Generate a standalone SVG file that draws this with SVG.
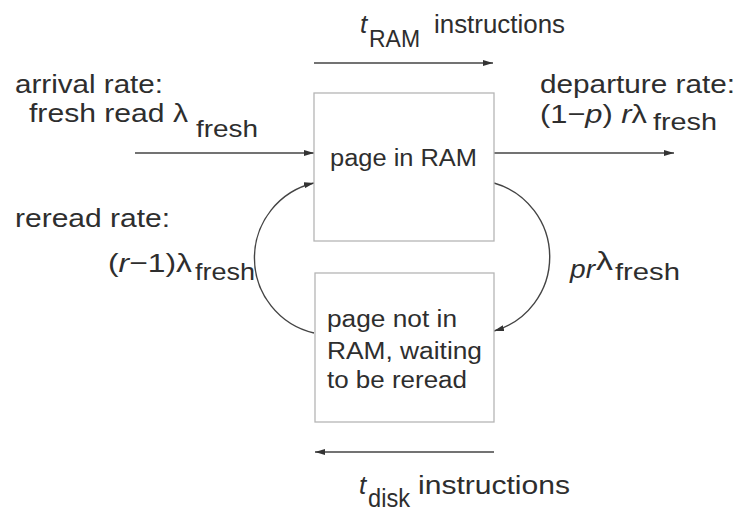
<svg xmlns="http://www.w3.org/2000/svg" width="743" height="512" viewBox="0 0 743 512">
<style>
text{font-family:"Liberation Sans",Arial,sans-serif;fill:#2e2e2e;font-size:26px}
.i{font-style:italic}
.s{font-size:24px}
.b{font-size:23px}
.box{fill:#fff;stroke:#b5b5b5;stroke-width:1.3}
.ln{fill:none;stroke:#444;stroke-width:1.4;marker-end:url(#ah)}
</style>
<defs>
<marker id="ah" viewBox="0 0 10 6" refX="10" refY="3" markerWidth="10" markerHeight="6" markerUnits="userSpaceOnUse" orient="auto">
<path d="M0,0 L10,3 L0,6 z" fill="#333"/>
</marker>
</defs>
<rect width="743" height="512" fill="#fff"/>
<g id="connectors">
<line class="ln" x1="314" y1="63" x2="493" y2="63"/>
<line class="ln" x1="494" y1="452" x2="315" y2="452"/>
<line class="ln" x1="135" y1="153" x2="314" y2="153"/>
<line class="ln" x1="494" y1="153" x2="674" y2="153"/>
<path class="ln" d="M314,333 A77,77 0 0 1 314,183"/>
<path class="ln" d="M494,183 A77,77 0 0 1 494,331"/>
</g>
<g id="node-ram">
<rect class="box" x="314" y="93" width="180" height="148"/>
<text class="b" x="330" y="166" textLength="147" lengthAdjust="spacingAndGlyphs">page in RAM</text>
</g>
<g id="node-disk">
<rect class="box" x="315" y="273" width="179" height="149"/>
<text class="b" x="327" y="327" textLength="130" lengthAdjust="spacingAndGlyphs">page not in</text>
<text class="b" x="327" y="359" textLength="155" lengthAdjust="spacingAndGlyphs">RAM, waiting</text>
<text class="b" x="327" y="388" textLength="140" lengthAdjust="spacingAndGlyphs">to be reread</text>
</g>
<g id="labels">
<text class="i" x="360" y="33">t</text>
<text class="s" x="369" y="47" textLength="51" lengthAdjust="spacingAndGlyphs">RAM</text>
<text x="434" y="33" textLength="131" lengthAdjust="spacingAndGlyphs">instructions</text>
<text x="15" y="93" textLength="148" lengthAdjust="spacingAndGlyphs">arrival rate:</text>
<text x="29" y="122" textLength="159" lengthAdjust="spacingAndGlyphs">fresh read λ</text>
<text class="s" x="196" y="137" textLength="62" lengthAdjust="spacingAndGlyphs">fresh</text>
<text x="540" y="93" textLength="195" lengthAdjust="spacingAndGlyphs">departure rate:</text>
<text x="540" y="123" textLength="107" lengthAdjust="spacingAndGlyphs">(1−<tspan class="i">p</tspan>) <tspan class="i">r</tspan>λ</text>
<text class="s" x="653" y="130" textLength="64" lengthAdjust="spacingAndGlyphs">fresh</text>
<text x="15" y="227" textLength="155" lengthAdjust="spacingAndGlyphs">reread rate:</text>
<text x="108" y="272" textLength="84" lengthAdjust="spacingAndGlyphs">(<tspan class="i">r</tspan>−1)λ</text>
<text class="s" x="195" y="280" textLength="60" lengthAdjust="spacingAndGlyphs">fresh</text>
<text class="i" x="570" y="278" textLength="25" lengthAdjust="spacingAndGlyphs">pr</text>
<text x="596" y="270" font-size="19" textLength="17" lengthAdjust="spacingAndGlyphs">λ</text>
<text class="s" x="615" y="280" textLength="65" lengthAdjust="spacingAndGlyphs">fresh</text>
<text class="i" x="359" y="494">t</text>
<text x="368" y="507" font-size="22" textLength="42" lengthAdjust="spacingAndGlyphs">disk</text>
<text x="418" y="494" textLength="152" lengthAdjust="spacingAndGlyphs">instructions</text>
</g>
</svg>
